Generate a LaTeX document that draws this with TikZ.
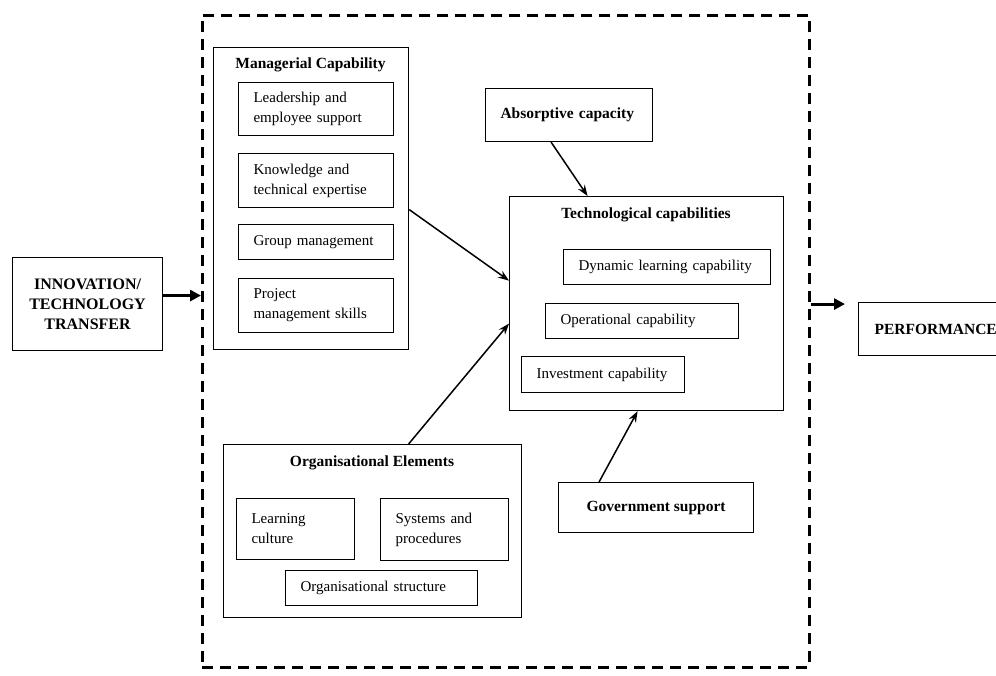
\documentclass[tikz,border=0pt]{standalone}
\usepackage{fontspec}
\setmainfont{Liberation Serif}
\usetikzlibrary{arrows.meta}
\begin{document}
\begin{tikzpicture}[x=1pt,y=-1pt,
  every node/.style={font=\fontsize{15}{20}\selectfont},
  container/.style={draw, line width=1.2pt, inner sep=0pt, anchor=north west},
  ibox/.style={draw, line width=1.1pt, inner xsep=15pt, inner ysep=0pt, align=left, anchor=north west},
  cbox/.style={draw, line width=1.1pt, inner sep=0pt, align=center, anchor=north west, font=\fontsize{15.5}{20}\selectfont\bfseries},
  title/.style={font=\fontsize{15.5}{20}\selectfont\bfseries, inner sep=0pt},
  frame/.style={draw, line width=2.6pt, dash pattern=on 11pt off 7pt, inner sep=0pt, anchor=north west},
  link/.style={draw, line width=1.5pt, -{Stealth[length=11pt,width=8pt]}},
  bigarrow/.style={draw, line width=3pt, -{Triangle[length=11pt,width=11pt]}}
]
\useasboundingbox (0,0) rectangle (996,675);

% dashed frame around the capabilities
\node[frame, minimum width=607pt, minimum height=652pt] (frame) at (201,14) {};

% input and output
\node[cbox, minimum width=150pt, minimum height=93pt, font=\fontsize{16}{20}\selectfont\bfseries] (innov) at (12,257) {INNOVATION/\\TECHNOLOGY\\TRANSFER};
\node[draw, line width=1.1pt, anchor=north west, minimum width=142pt, minimum height=53pt,
      text width=112pt, inner xsep=16pt, inner ysep=0pt, align=left,
      font=\fontsize{15.5}{20}\selectfont\bfseries] (perf) at (858,302) {PERFORMANCE};

% managerial capability
\node[container, minimum width=195pt, minimum height=302pt] (man) at (213,47) {};
\node[title] (mantitle) at (310.5,65) {Managerial Capability};
\node[ibox, text width=125pt, minimum height=53pt] (lead) at (238,82) {Leadership and\\employee support};
\node[ibox, text width=125pt, minimum height=54pt] (know) at (238,153) {Knowledge and\\technical expertise};
\node[ibox, text width=125pt, minimum height=35pt] (group) at (238,224) {Group management};
\node[ibox, text width=125pt, minimum height=54pt] (proj) at (238,278) {Project\\management skills};

% absorptive capacity
\node[ibox, text width=137pt, minimum height=53pt, font=\fontsize{15.5}{20}\selectfont\bfseries] (absorb) at (485,88) {Absorptive capacity};

% technological capabilities
\node[container, minimum width=274pt, minimum height=214pt] (tech) at (509,196) {};
\node[title] (techtitle) at (646,215) {Technological capabilities};
\node[ibox, text width=177pt, minimum height=35pt] (dyn) at (563,249) {Dynamic learning capability};
\node[ibox, text width=163pt, minimum height=35pt] (oper) at (545,303) {Operational capability};
\node[ibox, text width=133pt, minimum height=36pt] (invest) at (521,356) {Investment capability};

% organisational elements
\node[container, minimum width=298pt, minimum height=173pt] (org) at (223,444) {};
\node[title] (orgtitle) at (372,463) {Organisational Elements};
\node[ibox, text width=88pt, minimum height=61pt] (learn) at (236,498) {Learning\\culture};
\node[ibox, text width=98pt, minimum height=62pt] (sys) at (380,498) {Systems and\\procedures};
\node[ibox, text width=162pt, minimum height=35pt] (struct) at (285,570) {Organisational structure};

% government support
\node[cbox, minimum width=195pt, minimum height=50pt] (gov) at (558,482) {Government support};

% connectors
\coordinate (a1) at ([yshift=8.5pt]innov.east);
\draw[bigarrow] (a1) -- (frame.west |- a1);
\coordinate (p1) at ([xshift=-13pt,yshift=25pt]perf.west);
\draw[bigarrow] (frame.east |- p1) -- (p1);

\draw[link] ([yshift=-11pt]man.east) -- ([yshift=23pt]tech.west);
\draw[link] ([xshift=36pt]org.north) -- ([yshift=-20pt]tech.west);
\draw[link] ([xshift=-18pt]absorb.south) -- ([xshift=-59pt]tech.north);
\draw[link] ([xshift=-57pt]gov.north) -- ([xshift=-9pt]tech.south);
\end{tikzpicture}
\end{document}
